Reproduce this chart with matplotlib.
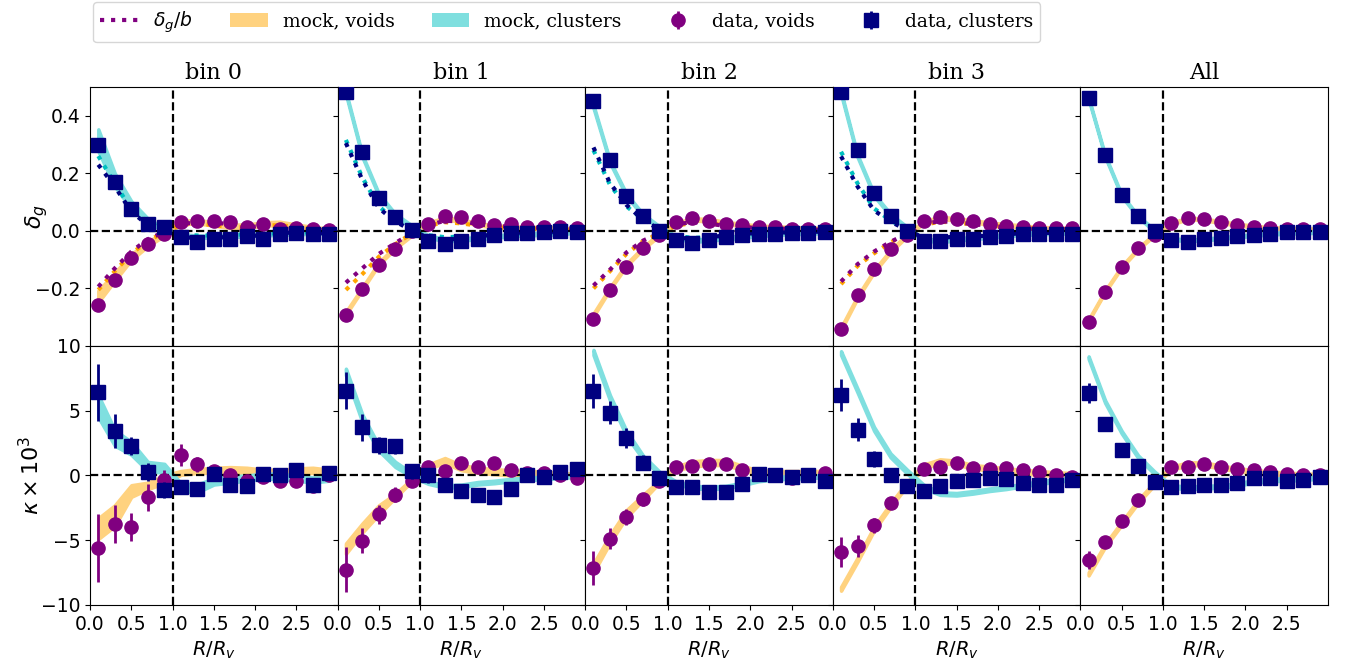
import matplotlib
matplotlib.use('Agg')
import matplotlib.pyplot as plt
from matplotlib.patches import Patch
from matplotlib.lines import Line2D

titles = ['bin 0', 'bin 1', 'bin 2', 'bin 3', 'All']
r = [0.1, 0.3, 0.5, 0.7, 0.9, 1.1, 1.3, 1.5, 1.7, 1.9, 2.1, 2.3, 2.5, 2.7, 2.9]

# ---- galaxy density profiles (top row) ----
dg_void_data = [
    [-0.258, -0.170, -0.095, -0.046, -0.011, 0.032, 0.036, 0.036, 0.032, 0.015, 0.024, 0.007, 0.010, 0.005, 0.003],
    [-0.293, -0.203, -0.119, -0.064, -0.002, 0.024, 0.052, 0.048, 0.033, 0.020, 0.024, 0.015, 0.015, 0.015, 0.009],
    [-0.305, -0.205, -0.124, -0.061, -0.013, 0.031, 0.044, 0.035, 0.024, 0.020, 0.013, 0.013, 0.008, 0.006, 0.005],
    [-0.340, -0.224, -0.132, -0.064, -0.015, 0.034, 0.048, 0.041, 0.034, 0.024, 0.016, 0.013, 0.009, 0.009, 0.010],
    [-0.318, -0.212, -0.125, -0.061, -0.014, 0.026, 0.046, 0.041, 0.030, 0.020, 0.015, 0.009, 0.008, 0.008, 0.008],
]
dg_clus_data = [
    [0.297, 0.169, 0.075, 0.023, 0.015, -0.023, -0.037, -0.029, -0.029, -0.017, -0.027, -0.010, -0.007, -0.010, -0.010],
    [0.482, 0.274, 0.114, 0.048, 0.003, -0.036, -0.046, -0.036, -0.027, -0.016, -0.009, -0.007, -0.005, -0.002, -0.005],
    [0.452, 0.245, 0.122, 0.050, -0.002, -0.031, -0.041, -0.031, -0.023, -0.016, -0.010, -0.010, -0.006, -0.006, -0.003],
    [0.482, 0.282, 0.133, 0.052, -0.002, -0.035, -0.035, -0.029, -0.029, -0.023, -0.017, -0.012, -0.010, -0.010, -0.010],
    [0.462, 0.262, 0.123, 0.050, 0.000, -0.033, -0.039, -0.029, -0.026, -0.019, -0.014, -0.010, -0.005, -0.005, -0.005],
]
dg_err = [0.012, 0.009, 0.007, 0.006, 0.005, 0.005, 0.004, 0.004, 0.004, 0.004, 0.003, 0.003, 0.003, 0.003, 0.003]

dg_void_mock = [
    [-0.228, -0.159, -0.091, -0.045, -0.011, 0.029, 0.032, 0.024, 0.016, 0.016, 0.024, 0.026, 0.017, 0.009, 0.003],
    [-0.286, -0.200, -0.113, -0.057, -0.012, 0.025, 0.043, 0.035, 0.024, 0.015, 0.013, 0.010, 0.010, 0.008, 0.003],
    [-0.292, -0.200, -0.118, -0.060, -0.012, 0.025, 0.040, 0.037, 0.028, 0.020, 0.015, 0.012, 0.010, 0.008, 0.006],
    [-0.340, -0.230, -0.140, -0.070, -0.015, 0.030, 0.045, 0.040, 0.033, 0.025, 0.020, 0.015, 0.010, 0.008, 0.006],
    [-0.310, -0.210, -0.125, -0.062, -0.012, 0.025, 0.043, 0.040, 0.030, 0.022, 0.015, 0.010, 0.008, 0.006, 0.005],
]
dg_void_mock_hw = [
    [0.020, 0.014, 0.010, 0.008, 0.006, 0.006, 0.006, 0.006, 0.006, 0.006, 0.006, 0.006, 0.005, 0.005, 0.005],
    [0.005, 0.004, 0.004, 0.004, 0.004, 0.004, 0.004, 0.004, 0.004, 0.004, 0.004, 0.004, 0.004, 0.004, 0.004],
    [0.005, 0.004, 0.004, 0.004, 0.004, 0.004, 0.004, 0.004, 0.004, 0.004, 0.004, 0.004, 0.004, 0.004, 0.004],
    [0.005, 0.004, 0.004, 0.004, 0.004, 0.004, 0.004, 0.004, 0.004, 0.004, 0.004, 0.004, 0.004, 0.004, 0.004],
    [0.003, 0.003, 0.003, 0.003, 0.003, 0.003, 0.003, 0.003, 0.003, 0.003, 0.003, 0.003, 0.003, 0.003, 0.003],
]
dg_clus_mock = [
    [0.315, 0.177, 0.090, 0.035, 0.005, -0.015, -0.020, -0.020, -0.018, -0.015, -0.012, -0.010, -0.008, -0.006, -0.005],
    [0.480, 0.260, 0.125, 0.055, 0.015, -0.020, -0.032, -0.030, -0.025, -0.020, -0.015, -0.012, -0.010, -0.008, -0.002],
    [0.432, 0.240, 0.125, 0.055, 0.012, -0.022, -0.035, -0.030, -0.025, -0.020, -0.015, -0.010, -0.008, -0.006, -0.004],
    [0.480, 0.260, 0.125, 0.055, 0.010, -0.030, -0.035, -0.030, -0.025, -0.020, -0.015, -0.010, -0.008, -0.006, -0.005],
    [0.460, 0.260, 0.123, 0.050, 0.000, -0.028, -0.033, -0.030, -0.025, -0.020, -0.014, -0.010, -0.007, -0.005, -0.004],
]
dg_clus_mock_hw = [
    [0.038, 0.023, 0.013, 0.008, 0.005, 0.004, 0.004, 0.004, 0.004, 0.004, 0.004, 0.004, 0.004, 0.004, 0.004],
    [0.005, 0.004, 0.004, 0.004, 0.004, 0.004, 0.004, 0.004, 0.004, 0.004, 0.004, 0.004, 0.004, 0.004, 0.004],
    [0.005, 0.004, 0.004, 0.004, 0.004, 0.004, 0.004, 0.004, 0.004, 0.004, 0.004, 0.004, 0.004, 0.004, 0.004],
    [0.005, 0.004, 0.004, 0.004, 0.004, 0.004, 0.004, 0.004, 0.004, 0.004, 0.004, 0.004, 0.004, 0.004, 0.004],
    [0.003, 0.003, 0.003, 0.003, 0.003, 0.003, 0.003, 0.003, 0.003, 0.003, 0.003, 0.003, 0.003, 0.003, 0.003],
]

# delta_g / b (bins 0-3 only)
dgb_void_data = [
    [-0.194, -0.130, -0.072, -0.029, -0.004, 0.025, 0.028, 0.028, 0.024, 0.012, 0.018, 0.006, 0.008, 0.004, 0.002],
    [-0.180, -0.130, -0.080, -0.042, -0.008, 0.020, 0.035, 0.033, 0.024, 0.015, 0.016, 0.011, 0.011, 0.011, 0.007],
    [-0.190, -0.135, -0.075, -0.034, -0.008, 0.022, 0.031, 0.025, 0.017, 0.014, 0.009, 0.009, 0.006, 0.004, 0.004],
    [-0.176, -0.116, -0.072, -0.038, -0.010, 0.024, 0.034, 0.029, 0.024, 0.017, 0.011, 0.009, 0.006, 0.006, 0.007],
]
dgb_void_mock = [
    [-0.205, -0.140, -0.080, -0.034, -0.006, 0.022, 0.025, 0.020, 0.013, 0.012, 0.018, 0.020, 0.013, 0.007, 0.002],
    [-0.205, -0.150, -0.090, -0.046, -0.009, 0.018, 0.030, 0.026, 0.018, 0.012, 0.010, 0.008, 0.007, 0.005, 0.003],
    [-0.200, -0.140, -0.080, -0.036, -0.009, 0.018, 0.028, 0.026, 0.020, 0.014, 0.011, 0.008, 0.007, 0.006, 0.004],
    [-0.185, -0.122, -0.078, -0.040, -0.011, 0.021, 0.032, 0.028, 0.023, 0.018, 0.014, 0.011, 0.007, 0.006, 0.004],
]
dgb_clus_data = [
    [0.230, 0.154, 0.067, 0.020, 0.010, -0.018, -0.028, -0.022, -0.022, -0.013, -0.020, -0.008, -0.005, -0.008, -0.008],
    [0.305, 0.177, 0.079, 0.032, 0.002, -0.025, -0.032, -0.026, -0.020, -0.012, -0.007, -0.005, -0.004, -0.002, -0.003],
    [0.290, 0.166, 0.090, 0.038, 0.005, -0.022, -0.029, -0.022, -0.016, -0.011, -0.007, -0.007, -0.004, -0.004, -0.002],
    [0.259, 0.154, 0.071, 0.032, 0.003, -0.024, -0.024, -0.020, -0.020, -0.016, -0.012, -0.008, -0.007, -0.007, -0.007],
]
dgb_clus_mock = [
    [0.260, 0.165, 0.075, 0.030, 0.005, -0.012, -0.016, -0.016, -0.014, -0.012, -0.010, -0.008, -0.006, -0.005, -0.004],
    [0.316, 0.185, 0.085, 0.036, 0.008, -0.015, -0.022, -0.020, -0.017, -0.013, -0.010, -0.008, -0.006, -0.004, -0.002],
    [0.280, 0.160, 0.085, 0.040, 0.008, -0.016, -0.025, -0.021, -0.018, -0.014, -0.011, -0.007, -0.006, -0.004, -0.003],
    [0.275, 0.165, 0.078, 0.036, 0.006, -0.020, -0.024, -0.021, -0.018, -0.014, -0.010, -0.007, -0.005, -0.004, -0.003],
]

# ---- lensing convergence profiles x 1e3 (bottom row) ----
k_void_data = [
    [-5.59, -3.73, -3.99, -1.67, -0.33, 1.60, 0.85, 0.31, 0.05, -0.39, -0.13, -0.44, -0.44, -0.85, 0.00],
    [-7.28, -5.02, -3.01, -1.47, -0.39, 0.64, 0.33, 0.95, 0.69, 0.98, 0.44, 0.18, 0.20, 0.00, -0.18],
    [-7.13, -4.89, -3.22, -1.85, -0.39, 0.69, 0.77, 0.90, 0.85, 0.44, 0.13, 0.05, -0.21, 0.00, 0.20],
    [-5.92, -5.41, -3.86, -2.11, -0.80, 0.51, 0.69, 0.95, 0.57, 0.51, 0.59, 0.46, 0.26, 0.00, -0.13],
    [-6.51, -5.10, -3.53, -1.93, -0.51, 0.64, 0.69, 0.90, 0.69, 0.51, 0.39, 0.26, 0.13, 0.05, 0.00],
]
k_void_err = [
    [2.60, 1.45, 1.10, 1.05, 0.75, 0.85, 0.60, 0.50, 0.45, 0.45, 0.40, 0.40, 0.40, 0.40, 0.40],
    [1.75, 1.00, 0.70, 0.60, 0.50, 0.50, 0.40, 0.35, 0.35, 0.30, 0.30, 0.30, 0.30, 0.30, 0.30],
    [1.30, 0.80, 0.60, 0.50, 0.30, 0.30, 0.30, 0.25, 0.25, 0.25, 0.25, 0.25, 0.25, 0.25, 0.25],
    [1.15, 0.85, 0.55, 0.40, 0.35, 0.30, 0.30, 0.25, 0.25, 0.25, 0.25, 0.25, 0.25, 0.25, 0.25],
    [0.70, 0.40, 0.30, 0.25, 0.20, 0.20, 0.20, 0.15, 0.15, 0.15, 0.15, 0.15, 0.15, 0.15, 0.15],
]
k_clus_data = [
    [6.43, 3.42, 2.29, 0.26, -1.13, -0.90, -1.08, 0.13, -0.70, -0.82, 0.08, 0.05, 0.44, -0.72, 0.18],
    [6.56, 3.73, 2.32, 2.24, 0.31, 0.00, -0.72, -1.16, -1.47, -1.67, -1.06, 0.00, -0.13, 0.26, 0.51],
    [6.51, 4.84, 2.91, 1.00, -0.18, -0.90, -0.90, -1.29, -1.24, -0.64, 0.13, 0.05, -0.08, 0.05, -0.39],
    [6.23, 3.55, 1.29, 0.05, -0.82, -1.21, -0.85, -0.44, -0.31, -0.21, -0.26, -0.57, -0.70, -0.70, -0.31],
    [6.38, 3.99, 1.98, 0.72, -0.51, -0.90, -0.85, -0.77, -0.77, -0.59, -0.18, -0.21, -0.39, -0.33, -0.13],
]
k_clus_err = [
    [2.20, 1.30, 0.70, 0.70, 0.60, 0.50, 0.40, 0.50, 0.50, 0.50, 0.40, 0.40, 0.40, 0.40, 0.40],
    [1.45, 1.05, 0.65, 0.60, 0.60, 0.60, 0.50, 0.35, 0.35, 0.30, 0.30, 0.30, 0.30, 0.30, 0.30],
    [1.30, 0.90, 0.75, 0.60, 0.40, 0.30, 0.30, 0.25, 0.25, 0.25, 0.25, 0.25, 0.25, 0.25, 0.25],
    [1.25, 0.90, 0.60, 0.50, 0.40, 0.30, 0.30, 0.25, 0.25, 0.25, 0.25, 0.25, 0.25, 0.25, 0.25],
    [0.75, 0.50, 0.30, 0.25, 0.20, 0.20, 0.20, 0.15, 0.15, 0.15, 0.15, 0.15, 0.15, 0.15, 0.15],
]
k_void_mock = [
    [-4.10, -3.10, -1.20, -0.80, -0.30, 0.20, 0.35, 0.40, 0.50, 0.35, 0.20, 0.20, 0.35, 0.40, 0.20],
    [-5.65, -4.05, -2.65, -1.55, -0.35, 0.70, 1.15, 0.60, 0.40, 0.30, 0.20, 0.15, 0.10, 0.05, 0.00],
    [-7.15, -4.90, -2.95, -1.70, -0.45, 0.55, 0.90, 1.00, 1.00, 0.60, 0.25, 0.20, 0.20, 0.20, 0.20],
    [-8.75, -6.50, -4.10, -2.30, -0.65, 0.70, 1.10, 1.00, 0.65, 0.55, 0.40, 0.30, 0.20, 0.10, 0.05],
    [-7.60, -5.40, -3.70, -2.00, -0.60, 0.55, 0.90, 0.90, 0.65, 0.45, 0.30, 0.20, 0.10, 0.05, 0.00],
]
k_void_mock_hw = [
    [0.80, 0.80, 0.45, 0.25, 0.30, 0.15, 0.15, 0.20, 0.15, 0.25, 0.25, 0.25, 0.20, 0.20, 0.25],
    [0.40, 0.35, 0.35, 0.15, 0.10, 0.15, 0.20, 0.20, 0.20, 0.20, 0.20, 0.20, 0.20, 0.15, 0.15],
    [0.35, 0.30, 0.28, 0.20, 0.10, 0.15, 0.20, 0.20, 0.20, 0.15, 0.15, 0.15, 0.15, 0.15, 0.15],
    [0.15, 0.15, 0.15, 0.15, 0.15, 0.15, 0.15, 0.15, 0.15, 0.15, 0.15, 0.15, 0.15, 0.15, 0.15],
    [0.12, 0.12, 0.12, 0.12, 0.12, 0.12, 0.12, 0.12, 0.12, 0.12, 0.12, 0.12, 0.12, 0.12, 0.12],
]
k_clus_mock = [
    [5.35, 2.90, 2.10, 0.70, 0.55, -0.90, -1.00, -0.45, -0.30, -0.20, -0.05, -0.05, -0.20, -0.35, -0.25],
    [8.00, 4.40, 2.10, 0.85, 0.05, -0.55, -0.85, -0.80, -0.60, -0.50, -0.35, -0.25, -0.20, -0.10, 0.00],
    [9.50, 6.00, 3.25, 1.40, 0.20, -0.55, -0.90, -0.95, -0.90, -0.65, -0.35, -0.20, -0.15, -0.10, -0.05],
    [9.45, 6.55, 3.60, 1.55, 0.30, -0.85, -1.40, -1.45, -1.30, -1.10, -0.95, -0.75, -0.55, -0.40, -0.25],
    [9.10, 5.70, 3.35, 1.45, 0.20, -0.85, -0.95, -0.90, -0.85, -0.70, -0.45, -0.35, -0.30, -0.25, -0.15],
]
k_clus_mock_hw = [
    [0.85, 0.60, 0.50, 0.35, 0.35, 0.30, 0.30, 0.25, 0.25, 0.20, 0.20, 0.20, 0.20, 0.20, 0.15],
    [0.25, 0.30, 0.20, 0.20, 0.15, 0.10, 0.10, 0.10, 0.10, 0.10, 0.10, 0.10, 0.10, 0.10, 0.10],
    [0.20, 0.20, 0.20, 0.15, 0.10, 0.10, 0.10, 0.10, 0.10, 0.10, 0.10, 0.10, 0.10, 0.10, 0.10],
    [0.15, 0.15, 0.15, 0.15, 0.15, 0.15, 0.10, 0.10, 0.10, 0.10, 0.10, 0.10, 0.10, 0.10, 0.10],
    [0.10, 0.10, 0.10, 0.10, 0.10, 0.10, 0.10, 0.10, 0.10, 0.10, 0.10, 0.10, 0.10, 0.10, 0.10],
]

serif = 'DejaVu Serif'
void_band = '#ffd27f'   # orange at half alpha on white
clus_band = '#7fdfdf'   # cyan at half alpha on white

fig, axes = plt.subplots(2, 5, figsize=(13.46, 6.66), dpi=100, sharex=True, sharey='row')
fig.subplots_adjust(left=0.0669, right=0.9866, top=0.8694, bottom=0.0916, wspace=0, hspace=0)


def band(ax, mid, hw, color):
    lo = [m - h for m, h in zip(mid, hw)]
    hi = [m + h for m, h in zip(mid, hw)]
    ax.fill_between(r, lo, hi, facecolor=color, edgecolor=color, lw=2.5, zorder=1)


for i in range(5):
    ax = axes[0, i]
    band(ax, dg_void_mock[i], dg_void_mock_hw[i], void_band)
    band(ax, dg_clus_mock[i], dg_clus_mock_hw[i], clus_band)
    if i < 4:
        ax.plot(r, dgb_void_mock[i], ':', color='orange', lw=3, zorder=2)
        ax.plot(r, dgb_void_data[i], ':', color='purple', lw=3, zorder=2)
        ax.plot(r, dgb_clus_mock[i], ':', color='c', lw=3, zorder=2)
        ax.plot(r, dgb_clus_data[i], ':', color='navy', lw=3, zorder=2)
    ax.axhline(0, color='k', ls='--', lw=1.6, zorder=3)
    ax.axvline(1, color='k', ls='--', lw=1.6, zorder=3)
    ev = ax.errorbar(r, dg_void_data[i], yerr=dg_err, fmt='o', color='purple', ms=9.5, elinewidth=2, zorder=4)
    ec = ax.errorbar(r, dg_clus_data[i], yerr=dg_err, fmt='s', color='navy', ms=9.5, elinewidth=2, zorder=5)
    ax.set_title(titles[i], family=serif, fontsize=16)

    ax = axes[1, i]
    band(ax, k_void_mock[i], k_void_mock_hw[i], void_band)
    band(ax, k_clus_mock[i], k_clus_mock_hw[i], clus_band)
    ax.axhline(0, color='k', ls='--', lw=1.6, zorder=3)
    ax.axvline(1, color='k', ls='--', lw=1.6, zorder=3)
    ax.errorbar(r, k_void_data[i], yerr=k_void_err[i], fmt='o', color='purple', ms=9.5, elinewidth=2, zorder=4)
    ax.errorbar(r, k_clus_data[i], yerr=k_clus_err[i], fmt='s', color='navy', ms=9.5, elinewidth=2, zorder=5)
    ax.set_xlabel(r'$R/R_v$', fontsize=14)

for ax in axes.flat:
    ax.tick_params(labelsize=13.5)

axes[0, 0].set_xlim(0, 3)
axes[1, 0].set_xticks([0.0, 0.5, 1.0, 1.5, 2.0, 2.5])
axes[0, 0].set_ylim(-0.4, 0.5)
axes[0, 0].set_yticks([-0.2, 0.0, 0.2, 0.4])
axes[1, 0].set_ylim(-10, 10)
axes[1, 0].set_yticks([-10, -5, 0, 5, 10])
axes[0, 0].set_ylabel(r'$\delta_g$', fontsize=16)
axes[1, 0].set_ylabel(r'$\kappa\times10^3$', fontsize=16)
axes[0, 0].yaxis.set_label_coords(-0.16, 0.5)
axes[1, 0].yaxis.set_label_coords(-0.19, 0.5)

handles = [
    Line2D([], [], ls=':', color='purple', lw=3),
    Patch(color=void_band, lw=0),
    Patch(color=clus_band, lw=0),
    ev,
    ec,
]
labels = [r'$\delta_g/b$', 'mock, voids', 'mock, clusters', 'data, voids', 'data, clusters']
fig.legend(handles, labels, loc='upper left', bbox_to_anchor=(0.0676, 1.0), ncol=5,
           borderaxespad=0.1, prop={'family': serif, 'size': 13.5})

fig.savefig('out.png', dpi=100)
